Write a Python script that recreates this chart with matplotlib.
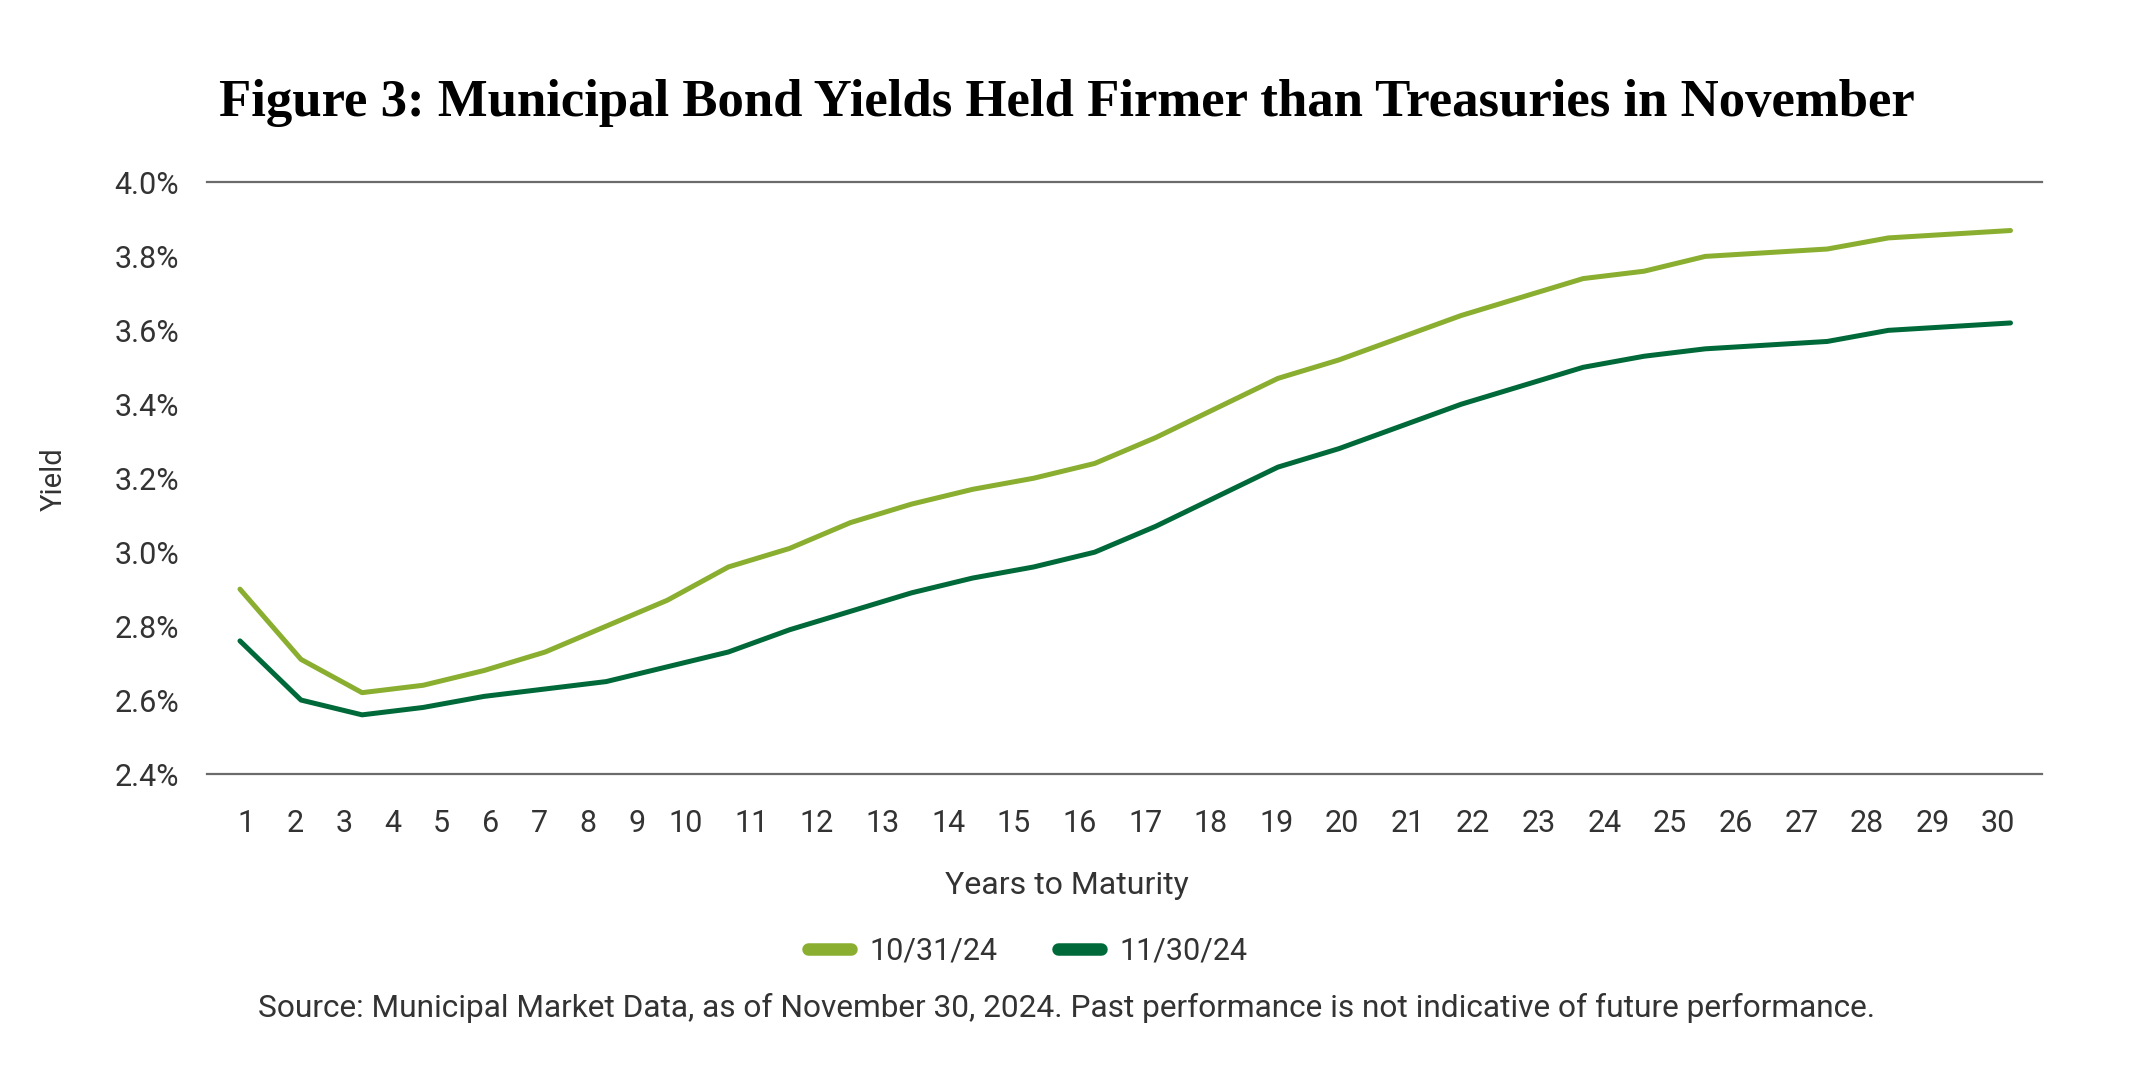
import numpy as np
import matplotlib
matplotlib.use("Agg")
import matplotlib.pyplot as plt
from matplotlib.ticker import FuncFormatter


# ============================================
# Data
# ============================================
years = np.arange(1, 31)
tick_labels = [str(y) for y in years]

yield_oct = [2.90, 2.71, 2.62, 2.64, 2.68, 2.73, 2.80, 2.87, 2.96, 3.01,
             3.08, 3.13, 3.17, 3.20, 3.24, 3.31, 3.39, 3.47, 3.52, 3.58,
             3.64, 3.69, 3.74, 3.76, 3.80, 3.81, 3.82, 3.85, 3.86, 3.87]
yield_nov = [2.76, 2.60, 2.56, 2.58, 2.61, 2.63, 2.65, 2.69, 2.73, 2.79,
             2.84, 2.89, 2.93, 2.96, 3.00, 3.07, 3.15, 3.23, 3.28, 3.34,
             3.40, 3.45, 3.50, 3.53, 3.55, 3.56, 3.57, 3.60, 3.61, 3.62]
series_labels = ["10/31/24", "11/30/24"]

LIGHT = "#8aae2f"
DARK = "#00693a"
GREY = "#333333"

plt.rcParams["font.family"] = ["Roboto", "DejaVu Sans"]

fig = plt.figure(figsize=(21.34, 10.67), dpi=100)
ax = fig.add_axes([0.097, 0.2746, 0.86, 0.5544])

ax.plot(years, yield_oct, color=LIGHT, lw=3.6, solid_capstyle="round",
        solid_joinstyle="round", label=series_labels[0])
ax.plot(years, yield_nov, color=DARK, lw=3.6, solid_capstyle="round",
        solid_joinstyle="round", label=series_labels[1])

ax.set_xlim(0.46, 30.52)
ax.set_ylim(2.4, 4.0)
ax.set_yticks(np.arange(2.4, 4.01, 0.2))
ax.yaxis.set_major_formatter(FuncFormatter(lambda v, _: f"{v:.1f}%"))

# category labels are laid out a bit unevenly in the original
tick_pos = np.concatenate([np.linspace(1.1, 8.3, 10), np.linspace(8.3, 29.8, 21)[1:]])
ax.set_xticks(tick_pos)
ax.set_xticklabels(tick_labels)

ax.tick_params(axis="both", length=0, labelsize=22, colors=GREY)
ax.tick_params(axis="y", pad=20)
ax.tick_params(axis="x", pad=25)

for side in ["left", "right"]:
    ax.spines[side].set_visible(False)
for side in ["top", "bottom"]:
    ax.spines[side].set_color("#6b6b6b")
    ax.spines[side].set_linewidth(1.6)

# ============================================
# Text
# ============================================
fig.text(0.5, 0.903, "Figure 3: Municipal Bond Yields Held Firmer than Treasuries in November",
         ha="center", va="center", fontsize=38, fontweight="bold",
         family="Liberation Serif", color="black")
fig.text(0.0253, 0.551, "Yield", rotation=90, ha="center", va="center",
         fontsize=21, color=GREY)
fig.text(0.5, 1 - 886 / 1067, "Years to Maturity", ha="center", va="center",
         fontsize=23, color=GREY)
fig.text(0.5, 1 - 1008 / 1067,
         "Source: Municipal Market Data, as of November 30, 2024. Past performance is not indicative of future performance.",
         ha="center", va="center", fontsize=22.8, color=GREY)

leg = fig.legend(loc="center", bbox_to_anchor=(0.4815, 1 - 951 / 1067), ncol=2,
                 frameon=False, fontsize=22, handlelength=1.4, handletextpad=0.6,
                 columnspacing=2.0)
for h in leg.get_lines():
    h.set_linewidth(9)
    h.set_solid_capstyle("round")
for t in leg.get_texts():
    t.set_color(GREY)

fig.savefig("out.png", dpi=100)
